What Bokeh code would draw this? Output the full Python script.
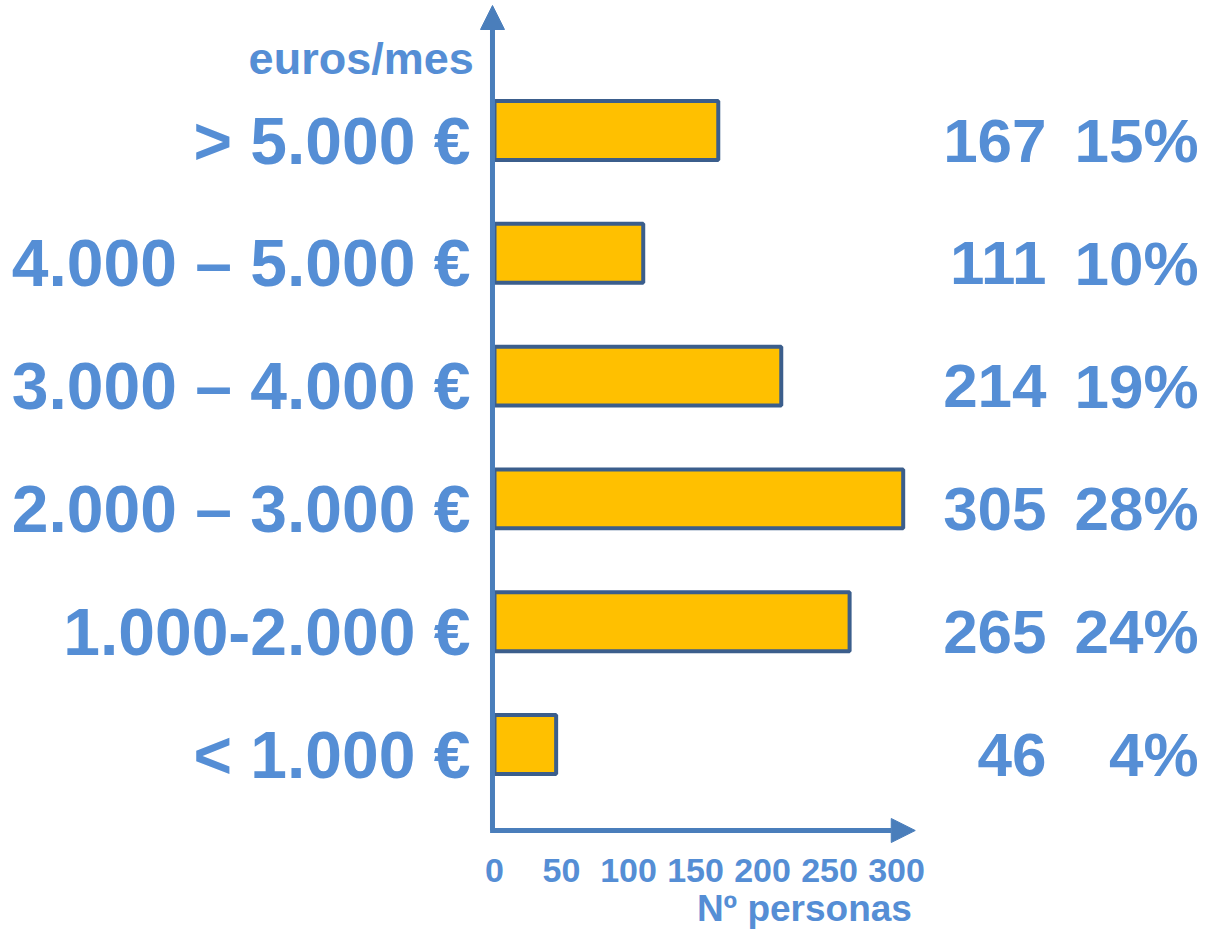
from bokeh.plotting import figure
from bokeh.models import Range1d, Arrow, NormalHead, ColumnDataSource
from bokeh.core.properties import value
from bokeh.embed import file_html
from bokeh.resources import INLINE

# ---- data (bottom to top) ----
categories = ["< 1.000 €", "1.000-2.000 €", "2.000 – 3.000 €",
              "3.000 – 4.000 €", "4.000 – 5.000 €", "> 5.000 €"]
persons = [46, 265, 305, 214, 111, 167]
percent_labels = ["4%", "24%", "28%", "19%", "10%", "15%"]
tick_values = [0, 50, 100, 150, 200, 250, 300]
tick_labels = ["0", "50", "100", "150", "200", "250", "300"]
y_title = "euros/mes"
x_title = "Nº personas"

W, H = 1216, 930
PX_PER_UNIT = 1.34
X0 = 494          # canvas px of value 0
ROW = 122.8       # px per category row
Y0 = 744          # canvas px of first category centre

x_range = Range1d(-X0 / PX_PER_UNIT, (W - X0) / PX_PER_UNIT)
y_range = Range1d((Y0 - H) / ROW, Y0 / ROW)

TEXT = "#558ED5"
AXIS = "#4A7EBB"
FONT = value("Liberation Sans")

p = figure(width=W, height=H, x_range=x_range, y_range=y_range,
           output_backend="svg", toolbar_location=None, min_border=0)
p.axis.visible = False
p.grid.visible = False
p.outline_line_color = None
p.background_fill_color = "white"

ypos = list(range(len(categories)))
src = ColumnDataSource(dict(y=ypos, v=persons, cat=categories,
                            num=[str(v) for v in persons], pct=percent_labels))

p.hbar(y="y", right="v", left=0, height=0.48, source=src,
       fill_color="#FFC000", line_color="#3B5E8C", line_width=4)

# left category labels
p.text(x=-17.9, y="y", text="cat", source=src, text_font=FONT,
       text_font_style="bold", text_font_size="66px", text_color=TEXT,
       text_align="right", text_baseline="middle", y_offset=10)
# right values
p.text(x=412, y="y", text="num", source=src, text_font=FONT,
       text_font_style="bold", text_font_size="62px", text_color=TEXT,
       text_align="right", text_baseline="middle", y_offset=10)
p.text(x=525.5, y="y", text="pct", source=src, text_font=FONT,
       text_font_style="bold", text_font_size="62px", text_color=TEXT,
       text_align="right", text_baseline="middle", y_offset=10)

# axes arrows
y_axis_line = (Y0 - 830) / ROW
p.add_layout(Arrow(x_start=-1.5, y_start=y_axis_line, x_end=-1.5, y_end=(Y0 - 5) / ROW,
                   line_color=AXIS, line_width=5,
                   end=NormalHead(size=24, fill_color=AXIS, line_color=AXIS)))
p.add_layout(Arrow(x_start=-3.3, y_start=y_axis_line, x_end=314, y_end=y_axis_line,
                   line_color=AXIS, line_width=5,
                   end=NormalHead(size=24, fill_color=AXIS, line_color=AXIS)))

# tick labels
p.text(x=tick_values, y=[(Y0 - 870) / ROW] * len(tick_values), text=tick_labels,
       text_font=FONT, text_font_style="bold", text_font_size="34px",
       text_color=TEXT, text_align="center", text_baseline="middle")
# axis titles
p.text(x=[311.5], y=[(Y0 - 908) / ROW], text=[x_title], text_font=FONT,
       text_font_style="bold", text_font_size="37px", text_color=TEXT,
       text_align="right", text_baseline="middle")
p.text(x=[-15.5], y=[(Y0 - 58) / ROW], text=[y_title], text_font=FONT,
       text_font_style="bold", text_font_size="45px", text_color=TEXT,
       text_align="right", text_baseline="middle")

open("out.html", "w").write(file_html(p, INLINE))
